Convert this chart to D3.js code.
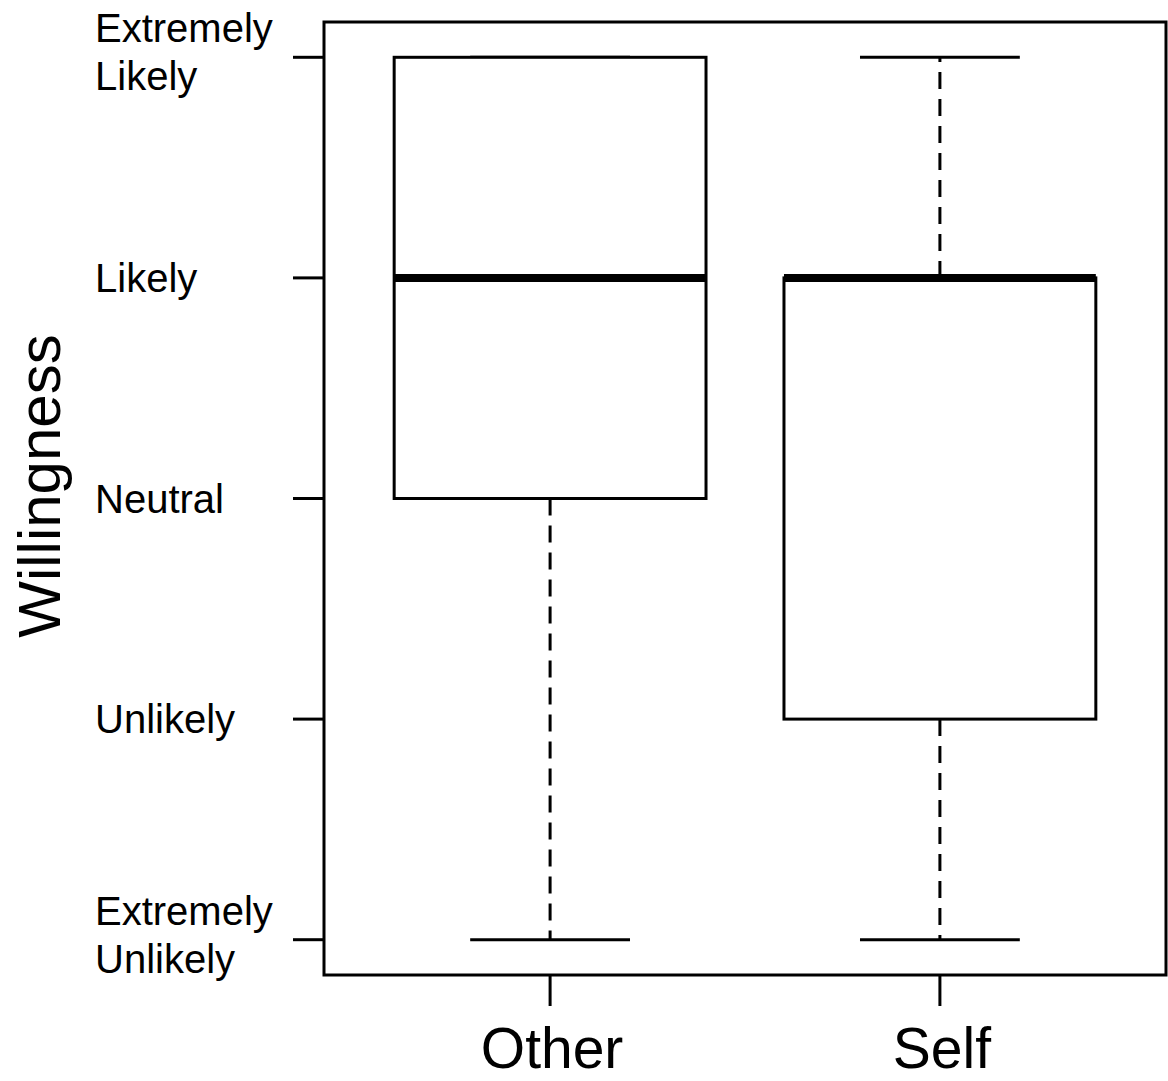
<!DOCTYPE html>
<html>
<head>
<meta charset="utf-8">
<script src="https://cdn.jsdelivr.net/npm/d3@7"></script>
<style>
  html, body { margin: 0; padding: 0; background: #fff; }
  svg text { font-family: "Liberation Sans", Arial, sans-serif; fill: #000; }
</style>
</head>
<body>
<svg id="chart" width="1168" height="1081"></svg>
<script>
// ---- data ----
const categories = ["Other", "Self"];
const mins    = [1, 1];
const q1s     = [3, 2];
const medians = [4, 4];
const q3s     = [5, 4];
const maxs    = [5, 5];
const tickValues = [1, 2, 3, 4, 5];
const tickLabels = [
  ["Extremely", "Unlikely"],
  ["Unlikely"],
  ["Neutral"],
  ["Likely"],
  ["Extremely", "Likely"]
];
const yTitle = "Willingness";

// ---- layout ----
const svg = d3.select("#chart");
const x = d3.scaleLinear().domain([0.42, 2.58]).range([324, 1166]);
const y = d3.scaleLinear().domain([0.84, 5.16]).range([975, 22]);
const boxHalf = 0.4, capHalf = 0.205;

// frame
svg.append("rect")
  .attr("x", x(0.42)).attr("y", y(5.16))
  .attr("width", x(2.58) - x(0.42)).attr("height", y(0.84) - y(5.16))
  .attr("fill", "none").attr("stroke", "#000").attr("stroke-width", 3);

// y axis ticks
const yTicks = svg.append("g");
tickValues.forEach((v, i) => {
  yTicks.append("line")
    .attr("x1", x(0.42) - 31).attr("x2", x(0.42))
    .attr("y1", y(v)).attr("y2", y(v))
    .attr("stroke", "#000").attr("stroke-width", 3);
  const lines = tickLabels[i];
  const t = yTicks.append("text").attr("font-size", 40).attr("x", 95);
  if (lines.length === 1) {
    t.append("tspan").attr("x", 95).attr("y", y(v) + 14).text(lines[0]);
  } else {
    t.append("tspan").attr("x", 95).attr("y", y(v) - 15).text(lines[0]);
    t.append("tspan").attr("x", 95).attr("y", y(v) + 33).text(lines[1]);
  }
});

// x axis ticks
categories.forEach((c, i) => {
  const cx = x(i + 1);
  svg.append("line")
    .attr("x1", cx).attr("x2", cx)
    .attr("y1", y(0.84)).attr("y2", y(0.84) + 31)
    .attr("stroke", "#000").attr("stroke-width", 3);
  svg.append("text")
    .attr("x", cx + 2).attr("y", 1068)
    .attr("text-anchor", "middle").attr("font-size", 57)
    .text(c);
});

// y title
svg.append("text")
  .attr("transform", `translate(60,486) rotate(-90)`)
  .attr("text-anchor", "middle").attr("font-size", 60)
  .text(yTitle);

// boxes
categories.forEach((c, i) => {
  const cx = x(i + 1);
  const g = svg.append("g");
  // whiskers
  if (maxs[i] > q3s[i]) {
    g.append("line").attr("x1", cx).attr("x2", cx)
      .attr("y1", y(q3s[i])).attr("y2", y(maxs[i]))
      .attr("stroke", "#000").attr("stroke-width", 3).attr("stroke-dasharray", "17,10");
  }
  if (mins[i] < q1s[i]) {
    g.append("line").attr("x1", cx).attr("x2", cx)
      .attr("y1", y(q1s[i])).attr("y2", y(mins[i]))
      .attr("stroke", "#000").attr("stroke-width", 3).attr("stroke-dasharray", "17,10");
  }
  // caps
  [mins[i], maxs[i]].forEach(v => {
    g.append("line")
      .attr("x1", x(i + 1 - capHalf)).attr("x2", x(i + 1 + capHalf))
      .attr("y1", y(v)).attr("y2", y(v))
      .attr("stroke", "#000").attr("stroke-width", 3);
  });
  // box
  g.append("rect")
    .attr("x", x(i + 1 - boxHalf)).attr("y", y(q3s[i]))
    .attr("width", x(i + 1 + boxHalf) - x(i + 1 - boxHalf))
    .attr("height", y(q1s[i]) - y(q3s[i]))
    .attr("fill", "#fff").attr("stroke", "#000").attr("stroke-width", 3);
  // median
  g.append("line")
    .attr("x1", x(i + 1 - boxHalf)).attr("x2", x(i + 1 + boxHalf))
    .attr("y1", y(medians[i])).attr("y2", y(medians[i]))
    .attr("stroke", "#000").attr("stroke-width", 8);
});
</script>
</body>
</html>
